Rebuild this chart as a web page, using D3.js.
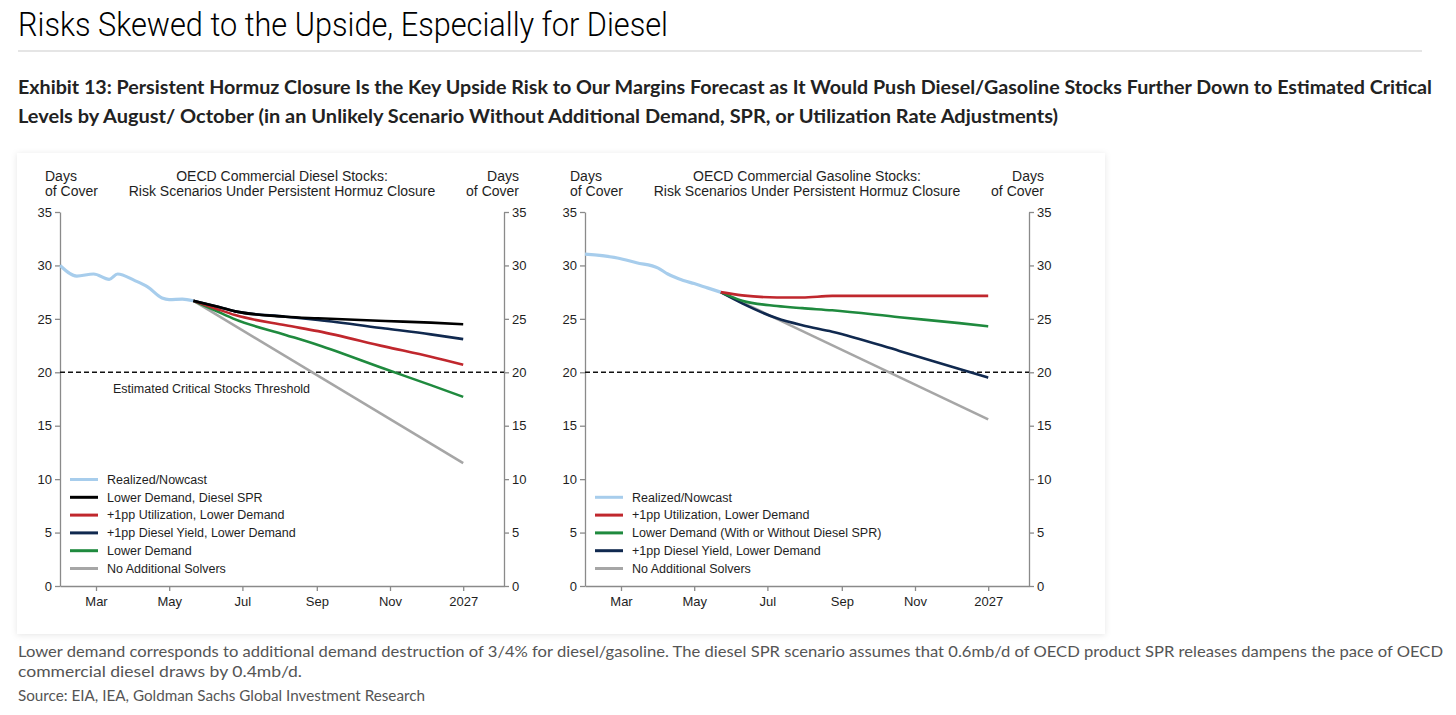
<!DOCTYPE html>
<html>
<head>
<meta charset="utf-8">
<script src="https://cdn.jsdelivr.net/npm/d3@7"></script>
<style>
  body { margin: 0; background: #fff; }
  svg { display: block; font-family: "Liberation Sans", Arial, sans-serif; }
</style>
</head>
<body>
<svg id="chart" width="1456" height="715"></svg>
<script>
var parse = d3.utcParse('%Y-%m-%d');

// shared axes
var xDomain = ['2026-01-30', '2027-02-04'];
var xTickDates = ['2026-03-01', '2026-05-01', '2026-07-01', '2026-09-01', '2026-11-01', '2027-01-01'];
var xTickLabels = ['Mar', 'May', 'Jul', 'Sep', 'Nov', '2027'];
var yTicks = [0, 5, 10, 15, 20, 25, 30, 35];
var threshold = 20;

// diesel (days of cover)
var dieselRealizedDates = ['2026-01-30', '2026-02-13', '2026-02-27', '2026-03-12', '2026-03-19', '2026-04-02',
  '2026-04-13', '2026-04-25', '2026-05-01', '2026-05-12', '2026-05-21'];
var dieselRealized = [30.0, 29.0, 29.2, 28.7, 29.2, 28.6, 28.0, 26.95, 26.8, 26.85, 26.7];
var dieselProjDates = ['2026-05-21', '2026-06-08', '2026-06-25', '2026-08-06', '2026-09-02', '2026-10-28',
  '2026-12-05', '2027-01-01'];
var dieselSprDemand = [26.7, 26.2, 25.7, 25.2, 25.05, 24.8, 24.65, 24.5];
var dieselUtilDemand = [26.7, 26.0, 25.35, 24.4, 23.85, 22.4, 21.45, 20.7];
var dieselYieldDemand = [26.7, 26.2, 25.7, 25.2, 24.9, 24.1, 23.55, 23.1];
var dieselLowerDemand = [26.7, 25.8, 24.95, 23.5, 22.55, 20.3, 18.8, 17.7];
var dieselNoSolverDates = ['2026-05-21', '2027-01-01'];
var dieselNoSolver = [26.7, 11.5];

// gasoline (days of cover)
var gasRealizedDates = ['2026-01-30', '2026-02-26', '2026-03-14', '2026-04-01', '2026-04-09', '2026-04-22',
  '2026-05-01', '2026-05-12', '2026-05-23'];
var gasRealized = [31.05, 30.7, 30.25, 29.75, 29.2, 28.6, 28.3, 27.9, 27.5];
var gasProjDates = ['2026-05-23', '2026-06-10', '2026-07-09', '2026-07-30', '2026-08-24', '2026-10-19',
  '2026-12-08', '2027-01-01'];
var gasUtilDemand = [27.5, 27.2, 27.0, 27.0, 27.15, 27.15, 27.15, 27.15];
var gasLowerDemand = [27.5, 26.7, 26.2, 26.0, 25.8, 25.15, 24.6, 24.3];
var gasYieldDemand = [27.5, 26.45, 25.05, 24.4, 23.8, 22.0, 20.3, 19.5];
var gasNoSolverDates = ['2026-05-23', '2027-01-01'];
var gasNoSolver = [27.5, 15.6];

var colors = {
  realized: '#a7cdec',
  black: '#000000',
  red: '#c0272d',
  navy: '#10294f',
  green: '#1f8a3e',
  grey: '#a6a6a6'
};

function series(label, color, dates, values, width, z) {
  return {
    label: label, color: color, width: width, z: z,
    points: dates.map(function(d, i) { return [parse(d), values[i]]; })
  };
}

// legend order; z sets drawing order
var dieselSeries = [
  series('Realized/Nowcast', colors.realized, dieselRealizedDates, dieselRealized, 3.2, 6),
  series('Lower Demand, Diesel SPR', colors.black, dieselProjDates, dieselSprDemand, 2.6, 5),
  series('+1pp Utilization, Lower Demand', colors.red, dieselProjDates, dieselUtilDemand, 2.6, 3),
  series('+1pp Diesel Yield, Lower Demand', colors.navy, dieselProjDates, dieselYieldDemand, 2.6, 4),
  series('Lower Demand', colors.green, dieselProjDates, dieselLowerDemand, 2.6, 2),
  series('No Additional Solvers', colors.grey, dieselNoSolverDates, dieselNoSolver, 2.6, 1)
];
var gasSeries = [
  series('Realized/Nowcast', colors.realized, gasRealizedDates, gasRealized, 3.2, 6),
  series('+1pp Utilization, Lower Demand', colors.red, gasProjDates, gasUtilDemand, 2.6, 5),
  series('Lower Demand (With or Without Diesel SPR)', colors.green, gasProjDates, gasLowerDemand, 2.6, 4),
  series('+1pp Diesel Yield, Lower Demand', colors.navy, gasProjDates, gasYieldDemand, 2.6, 3),
  series('No Additional Solvers', colors.grey, gasNoSolverDates, gasNoSolver, 2.6, 1)
];

var panelW = 444, panelH = 374, panelTop = 212;
var axisColor = '#8a8a8a', textColor = '#1e1e1e';

var svg = d3.select('#chart');

var defs = svg.append('defs');
var f = defs.append('filter').attr('id', 'shadow').attr('x', '-5%').attr('y', '-5%').attr('width', '110%').attr('height', '110%');
f.append('feDropShadow').attr('dx', 0).attr('dy', 1).attr('stdDeviation', 3)
  .attr('flood-color', '#000').attr('flood-opacity', 0.10);

// page heading
svg.append('text')
  .attr('x', 18).attr('y', 36)
  .attr('font-family', 'Roboto, sans-serif').attr('font-weight', 300).attr('font-size', 33)
  .attr('fill', '#000')
  .attr('textLength', 650).attr('lengthAdjust', 'spacingAndGlyphs')
  .text('Risks Skewed to the Upside, Especially for Diesel');

svg.append('line')
  .attr('x1', 18).attr('x2', 1422).attr('y1', 51).attr('y2', 51)
  .attr('stroke', '#dcdcdc').attr('stroke-width', 1.5);

var subtitle = [
  ['Exhibit 13: Persistent Hormuz Closure Is the Key Upside Risk to Our Margins Forecast as It Would Push Diesel/Gasoline Stocks Further Down to Estimated Critical', 94, 1414],
  ['Levels by August/ October (in an Unlikely Scenario Without Additional Demand, SPR, or Utilization Rate Adjustments)', 123, 1040]
];
subtitle.forEach(function(s) {
  svg.append('text')
    .attr('x', 18).attr('y', s[1])
    .attr('font-family', 'Lato, sans-serif').attr('font-weight', 700).attr('font-size', 18.5)
    .attr('fill', '#222')
    .attr('textLength', s[2]).attr('lengthAdjust', 'spacingAndGlyphs')
    .text(s[0]);
});

// chart card
svg.append('rect')
  .attr('x', 17).attr('y', 153).attr('width', 1088).attr('height', 481)
  .attr('fill', '#fff').attr('filter', 'url(#shadow)');

function addPanel(left, title, list) {
  var x = d3.scaleUtc().domain(xDomain.map(parse)).range([0, panelW]);
  var y = d3.scaleLinear().domain([0, 35]).range([panelH, 0]);

  var g = svg.append('g').attr('transform', 'translate(' + left + ',' + panelTop + ')');

  // titles
  var t = g.append('g').attr('font-size', 14).attr('fill', textColor);
  t.append('text').attr('x', panelW / 2).attr('y', -31).attr('text-anchor', 'middle').text(title[0]);
  t.append('text').attr('x', panelW / 2).attr('y', -16).attr('text-anchor', 'middle').text(title[1]);
  t.append('text').attr('x', -15).attr('y', -31).text('Days');
  t.append('text').attr('x', -15).attr('y', -16).text('of Cover');
  t.append('text').attr('x', panelW + 15).attr('y', -31).attr('text-anchor', 'end').text('Days');
  t.append('text').attr('x', panelW + 15).attr('y', -16).attr('text-anchor', 'end').text('of Cover');

  // axes
  var yl = g.append('g')
    .call(d3.axisLeft(y).tickValues(yTicks).tickSize(5).tickSizeOuter(0).tickPadding(3));
  var yr = g.append('g').attr('transform', 'translate(' + panelW + ',0)')
    .call(d3.axisRight(y).tickValues(yTicks).tickSize(5).tickSizeOuter(0).tickPadding(3));
  var xa = g.append('g').attr('transform', 'translate(0,' + panelH + ')')
    .call(d3.axisBottom(x)
      .tickValues(xTickDates.map(parse))
      .tickFormat(function(d, i) { return xTickLabels[i]; })
      .tickSize(5).tickSizeOuter(0).tickPadding(6));

  [yl, yr, xa].forEach(function(a) {
    a.selectAll('path, line').attr('stroke', axisColor).attr('stroke-width', 1.3);
    a.selectAll('text').attr('fill', textColor).attr('font-size', 13)
      .attr('font-family', '"Liberation Sans", Arial, sans-serif');
  });

  // threshold
  g.append('line')
    .attr('x1', 0).attr('x2', panelW)
    .attr('y1', y(threshold)).attr('y2', y(threshold))
    .attr('stroke', '#111').attr('stroke-width', 1.4).attr('stroke-dasharray', '5,3');

  var line = d3.line()
    .x(function(d) { return x(d[0]); })
    .y(function(d) { return y(d[1]); })
    .curve(d3.curveMonotoneX);

  g.selectAll('path.series')
    .data(list.slice().sort(function(a, b) { return a.z - b.z; }))
    .enter().append('path')
    .attr('class', 'series')
    .attr('d', function(d) { return line(d.points); })
    .attr('fill', 'none')
    .attr('stroke', function(d) { return d.color; })
    .attr('stroke-width', function(d) { return d.width; })
    .attr('stroke-linejoin', 'round');

  // legend, anchored to the bottom
  var rowH = 17.8, lastY = panelH - 17.5;
  var lg = g.append('g').attr('font-size', 12.5).attr('fill', textColor);
  list.forEach(function(s, i) {
    var ly = lastY - (list.length - 1 - i) * rowH;
    lg.append('line')
      .attr('x1', 10).attr('x2', 38).attr('y1', ly).attr('y2', ly)
      .attr('stroke', s.color).attr('stroke-width', 3);
    lg.append('text').attr('x', 47).attr('y', ly).attr('dy', '0.35em').text(s.label);
  });

  return { g: g, x: x, y: y };
}

var left = addPanel(60, ['OECD Commercial Diesel Stocks:', 'Risk Scenarios Under Persistent Hormuz Closure'], dieselSeries);
left.g.append('text')
  .attr('x', 53).attr('y', left.y(threshold) + 16.5)
  .attr('dy', '0.35em')
  .attr('font-size', 12.5).attr('fill', textColor)
  .text('Estimated Critical Stocks Threshold');

addPanel(585, ['OECD Commercial Gasoline Stocks:', 'Risk Scenarios Under Persistent Hormuz Closure'], gasSeries);

// notes
var notes = [
  ['Lower demand corresponds to additional demand destruction of 3/4% for diesel/gasoline. The diesel SPR scenario assumes that 0.6mb/d of OECD product SPR releases dampens the pace of OECD', 657, 1425, 16],
  ['commercial diesel draws by 0.4mb/d.', 677, 284, 16],
  ['Source: EIA, IEA, Goldman Sachs Global Investment Research', 701, 407, 14.5]
];
notes.forEach(function(n) {
  svg.append('text')
    .attr('x', 18).attr('y', n[1])
    .attr('font-family', 'Lato, sans-serif').attr('font-size', n[3])
    .attr('fill', '#555')
    .attr('textLength', n[2]).attr('lengthAdjust', 'spacingAndGlyphs')
    .text(n[0]);
});
</script>
</body>
</html>
